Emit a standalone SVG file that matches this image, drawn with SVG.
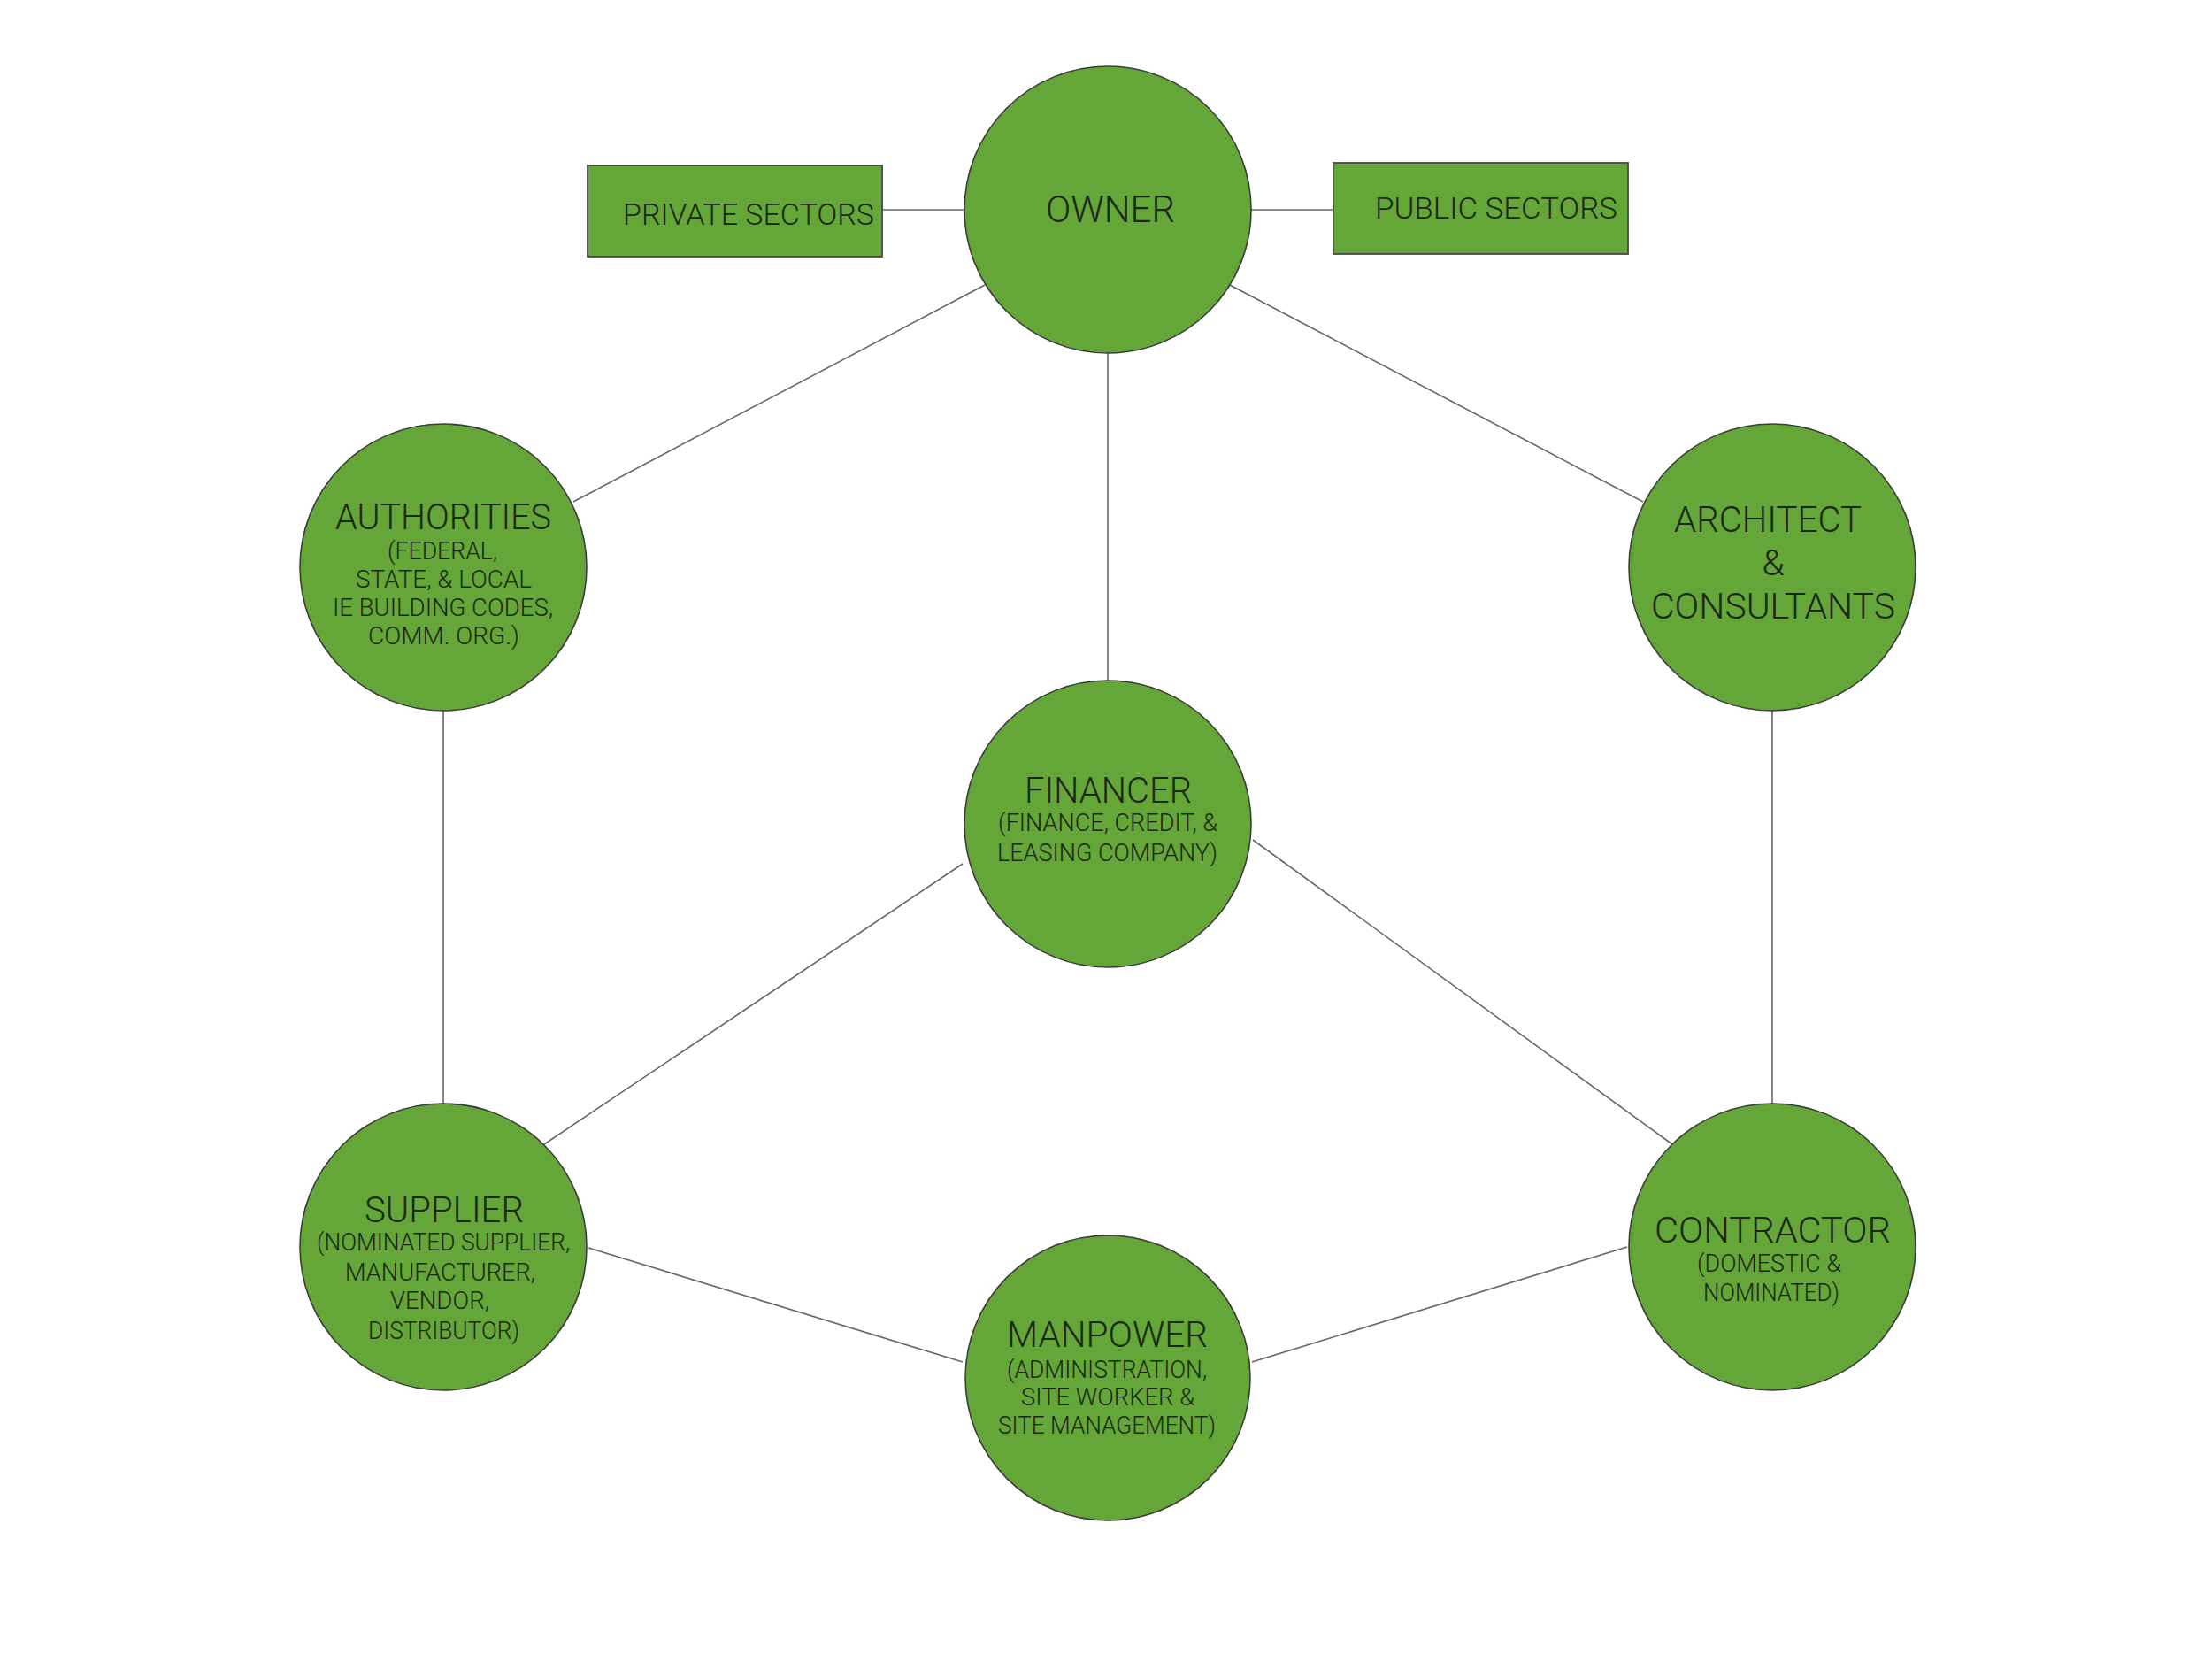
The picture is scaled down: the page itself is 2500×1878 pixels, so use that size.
<svg xmlns="http://www.w3.org/2000/svg" width="2500" height="1878" viewBox="0 0 2500 1878">
<style>
.node{fill:#64a638;stroke:#3c3c3c;stroke-width:1.6}
.box{fill:#64a638;stroke:#4a4a4a;stroke-width:1.8}
.conn line{stroke:#666;stroke-width:1.6}
text{font-family:Roboto,"Liberation Sans",sans-serif;font-weight:300;fill:#1c2616}
.t{font-size:41px}
.s{font-size:27px}
.b{font-size:33px}
</style>
<rect width="2500" height="1878" fill="#ffffff"/>
<g id="connectors" class="conn">
<line x1="997" y1="237" x2="1090" y2="237"/>
<line x1="1414" y1="237" x2="1507" y2="237"/>
<line x1="1113" y1="322" x2="648" y2="567"/>
<line x1="1390" y1="322" x2="1857" y2="567"/>
<line x1="1252" y1="399" x2="1252" y2="770"/>
<line x1="501" y1="803" x2="501" y2="1248"/>
<line x1="2003" y1="803" x2="2003" y2="1248"/>
<line x1="1088" y1="976" x2="615" y2="1293"/>
<line x1="1416" y1="949" x2="1890" y2="1293"/>
<line x1="665" y1="1410" x2="1088" y2="1539"/>
<line x1="1415" y1="1539" x2="1839" y2="1409"/>
</g>
<g id="private-sectors">
<rect class="box" x="664" y="187" width="333" height="103"/>
<text class="b" x="704" y="254" textLength="284" lengthAdjust="spacingAndGlyphs">PRIVATE SECTORS</text>
</g>
<g id="public-sectors">
<rect class="box" x="1507" y="184" width="333" height="103"/>
<text class="b" x="1554" y="247" textLength="274" lengthAdjust="spacingAndGlyphs">PUBLIC SECTORS</text>
</g>
<g id="owner">
<circle class="node" cx="1252" cy="237" r="162"/>
<text style="font-size:42px" x="1182" y="251" textLength="146" lengthAdjust="spacingAndGlyphs">OWNER</text>
</g>
<g id="authorities">
<circle class="node" cx="501" cy="641" r="162"/>
<text class="t" x="379" y="598" textLength="244" lengthAdjust="spacingAndGlyphs">AUTHORITIES</text>
<text class="s" x="438" y="632" textLength="124" lengthAdjust="spacingAndGlyphs">(FEDERAL,</text>
<text class="s" x="402" y="664" textLength="199" lengthAdjust="spacingAndGlyphs">STATE, &amp; LOCAL</text>
<text class="s" x="376" y="696" textLength="249" lengthAdjust="spacingAndGlyphs">IE BUILDING CODES,</text>
<text class="s" x="416" y="728" textLength="171" lengthAdjust="spacingAndGlyphs">COMM. ORG.)</text>
</g>
<g id="architect">
<circle class="node" cx="2003" cy="641" r="162"/>
<text class="t" x="1892" y="601" textLength="212" lengthAdjust="spacingAndGlyphs">ARCHITECT</text>
<text class="t" x="2004" y="650" text-anchor="middle">&amp;</text>
<text class="t" x="1866" y="699" textLength="276" lengthAdjust="spacingAndGlyphs">CONSULTANTS</text>
</g>
<g id="financer">
<circle class="node" cx="1252" cy="931" r="162"/>
<text class="t" x="1158" y="907" textLength="189" lengthAdjust="spacingAndGlyphs">FINANCER</text>
<text class="s" x="1128" y="939" textLength="248" lengthAdjust="spacingAndGlyphs">(FINANCE, CREDIT, &amp;</text>
<text class="s" x="1127" y="973" textLength="249" lengthAdjust="spacingAndGlyphs">LEASING COMPANY)</text>
</g>
<g id="supplier">
<circle class="node" cx="501" cy="1409" r="162"/>
<text class="t" x="412" y="1381" textLength="180" lengthAdjust="spacingAndGlyphs">SUPPLIER</text>
<text class="s" x="358" y="1413" textLength="286" lengthAdjust="spacingAndGlyphs">(NOMINATED SUPPLIER,</text>
<text class="s" x="390" y="1447" textLength="215" lengthAdjust="spacingAndGlyphs">MANUFACTURER,</text>
<text class="s" x="441" y="1479" textLength="112" lengthAdjust="spacingAndGlyphs">VENDOR,</text>
<text class="s" x="416" y="1513" textLength="171" lengthAdjust="spacingAndGlyphs">DISTRIBUTOR)</text>
</g>
<g id="manpower">
<circle class="node" cx="1252" cy="1557" r="161"/>
<text class="t" x="1138" y="1522" textLength="227" lengthAdjust="spacingAndGlyphs">MANPOWER</text>
<text class="s" x="1138" y="1557" textLength="226" lengthAdjust="spacingAndGlyphs">(ADMINISTRATION,</text>
<text class="s" x="1154" y="1588" textLength="196" lengthAdjust="spacingAndGlyphs">SITE WORKER &amp;</text>
<text class="s" x="1128" y="1620" textLength="246" lengthAdjust="spacingAndGlyphs">SITE MANAGEMENT)</text>
</g>
<g id="contractor">
<circle class="node" cx="2003" cy="1409" r="162"/>
<text class="t" x="1870" y="1404" textLength="267" lengthAdjust="spacingAndGlyphs">CONTRACTOR</text>
<text class="s" x="1918" y="1437" textLength="163" lengthAdjust="spacingAndGlyphs">(DOMESTIC &amp;</text>
<text class="s" x="1925" y="1470" textLength="154" lengthAdjust="spacingAndGlyphs">NOMINATED)</text>
</g>
</svg>
